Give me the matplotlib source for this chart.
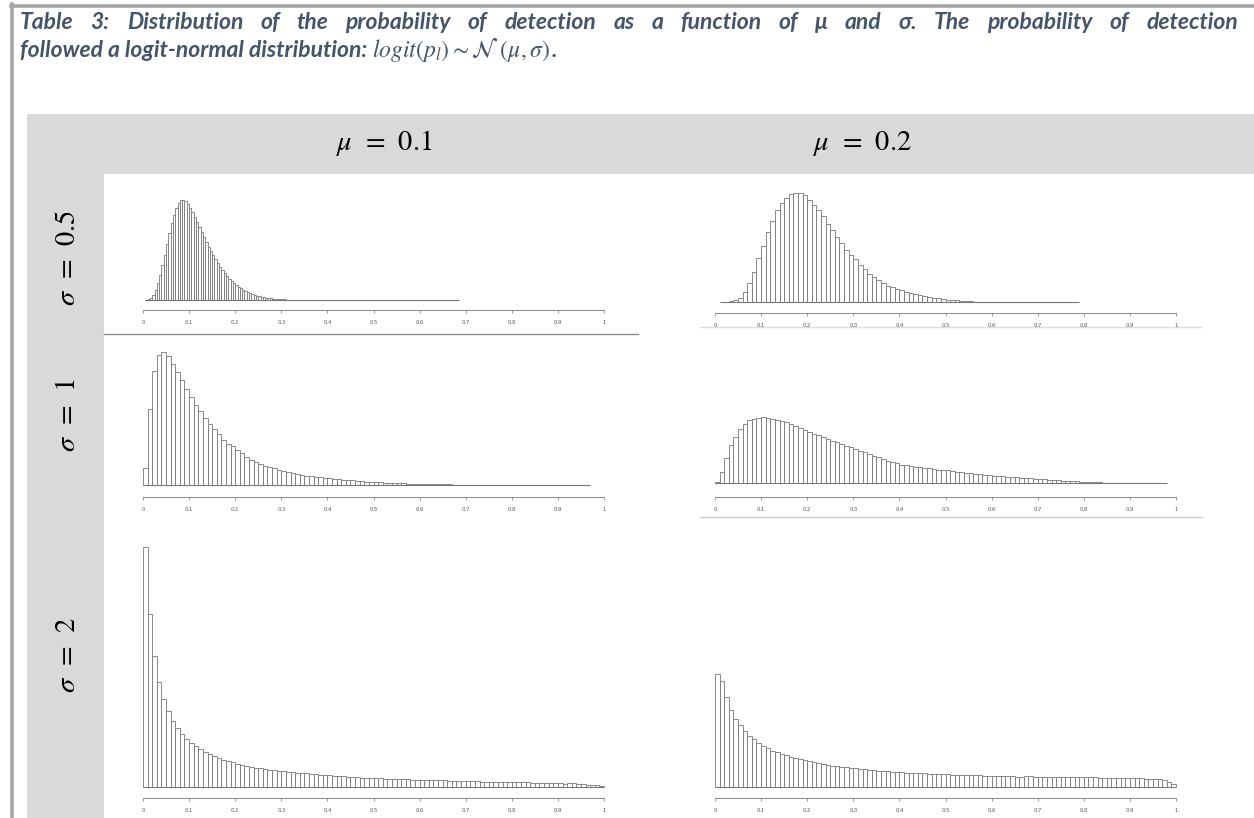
import matplotlib
matplotlib.use('Agg')
import matplotlib.pyplot as plt
from matplotlib.patches import Rectangle
from matplotlib.lines import Line2D

# ---------------- data (bar heights in % of each panel's tallest bar) ----------------
col_labels = [r'$\mu\;\,=\;\,0.1$', r'$\mu\;\,=\;\,0.2$']
row_labels = [r'$\sigma\;\,=\;\,0.5$', r'$\sigma\;\,=\;\,1$', r'$\sigma\;\,=\;\,2$']
tick_values = [0, 0.1, 0.2, 0.3, 0.4, 0.5, 0.6, 0.7, 0.8, 0.9, 1]
tick_labels = ['0', '0.1', '0.2', '0.3', '0.4', '0.5', '0.6', '0.7', '0.8', '0.9', '1']

# mu = 0.1, sigma = 0.5 (bins of 0.005 from 0.005)
h_m1_s05 = [0, 1, 2, 5, 10, 17, 25, 35, 45, 56, 67, 77, 85, 92, 97, 100, 100, 99, 96, 92,
            88, 83, 78, 73, 68, 63, 58, 53, 49, 45, 41, 37, 33, 30, 27, 24, 21.5, 19, 17, 15,
            13.5, 12, 10.5, 9, 8, 7, 6, 5.2, 4.5, 3.8, 3.2, 2.7, 2.3, 2, 1.7, 1.4, 1.2, 1, 0.8,
            0.7, 0.6, 0.5, 0.4, 0.3, 0.25, 0.2, 0.15]
# mu = 0.2, sigma = 0.5 (bins of 0.01 from 0.03)
h_m2_s05 = [0.5, 2, 4, 9, 17.4, 27.5, 40, 51, 64, 74, 84, 91, 95, 99, 100, 100, 98, 94, 89, 84,
            79, 72, 66, 60, 54, 48, 43, 39, 34, 30, 26, 23, 20, 17, 15, 13.5, 12, 10.7, 9.5, 8.5,
            7.5, 6.5, 5.5, 4.8, 4, 3.3, 2.7, 2.2, 1.8, 1.4, 1.1, 0.8, 0.5]
# mu = 0.1, sigma = 1 (bins of 0.01 from 0)
h_m1_s1 = [12.5, 57.5, 86, 97.5, 100, 97, 91, 85, 79, 72.5, 66, 60.5, 55.5, 50.5, 46, 42, 38, 34,
           31, 29, 26, 24, 21, 19, 17.5, 16, 14.5, 13.5, 12.5, 11.5, 10.5, 9.7, 9, 8.3, 7.7, 7.1,
           6.6, 6.1, 5.7, 5.3, 5, 4.6, 4.3, 4, 3.7, 3.4, 3.1, 2.9, 2.6, 2.4, 2.2, 2, 1.8, 1.7, 1.5,
           1.4, 1.2, 1.1, 1, 0.9, 0.8, 0.7, 0.6, 0.55, 0.5, 0.45, 0.4, 0.35, 0.3, 0.25, 0.2, 0.15]
# mu = 0.2, sigma = 1 (bins of 0.01 from 0)
h_m2_s1 = [1.5, 16.5, 37.5, 57.5, 70, 82.5, 90, 95, 97.5, 99, 100, 99, 97.5, 96, 94, 92, 89, 86.5,
           83.5, 81, 78, 75, 72, 69.5, 67, 64, 61.5, 59, 56.5, 54, 51.5, 49, 46.5, 44, 41.5, 39,
           36.5, 34, 32, 30, 28, 27, 26, 25, 24, 23, 22, 21, 20, 19.5, 19, 18, 17, 16.5, 15.5, 15,
           14, 13.5, 12.5, 12, 11, 10.5, 10, 9.5, 9, 8.5, 8, 7.5, 7, 6.5, 6, 5.5, 5, 4.5, 4, 3.6,
           3.2, 2.8, 2.4, 2, 1.7, 1.4, 1.1, 0.9, 0.7, 0.5, 0.3]
# mu = 0.1, sigma = 2 (bins of 0.01 from 0)
h_m1_s2 = [100, 72.2, 54.4, 43.75, 36.7, 31.5, 27.4, 24.6, 22.1, 20.1, 18.3, 16.9, 15.8, 14.6,
           13.75, 12.9, 12.1, 11.4, 10.8, 10.3, 9.7, 9.2, 8.75, 8.3, 8.1, 7.8, 7.5, 7.2, 7.1, 6.8,
           6.7, 6.4, 6.25, 6, 5.8, 5.7, 5.4, 5.3, 5.1, 5, 4.9, 4.7, 4.6, 4.4, 4.3, 4.2, 4, 3.9,
           3.9, 3.75, 3.75, 3.6, 3.5, 3.5, 3.3, 3.3, 3.2, 3.2, 3.1, 3.1, 3.1, 2.9, 2.9, 2.8, 2.8,
           2.8, 2.6, 2.6, 2.5, 2.5, 2.5, 2.4, 2.4, 2.2, 2.2, 2.2, 2.2, 2.1, 2.1, 2.1, 2.1, 1.9,
           1.9, 1.9, 1.8, 1.8, 1.8, 1.8, 1.7, 1.5, 1.5, 1.4, 1.5, 1.5, 1.25, 1.25, 1, 0.8, 0.8, 0.3]
# mu = 0.2, sigma = 2 (bins of 0.01 from 0)
h_m2_s2 = [100, 94, 79.4, 68.4, 60.5, 54.6, 49.3, 45.1, 42.2, 38.9, 36.6, 34.5, 32.2, 30.7, 29.2,
           28, 26.8, 25.7, 24.8, 24.2, 23, 21.8, 20.9, 20.4, 19.8, 18.9, 18.3, 18, 17.7, 17.1,
           16.8, 16.2, 15.9, 15.3, 15, 14.5, 14.2, 13.9, 13.6, 13.3, 13, 12.7, 12.4, 12.4, 12.1,
           12.1, 11.8, 11.8, 11.5, 11.5, 11.2, 10.9, 10.9, 10.6, 10.6, 10.3, 10.3, 10.3, 10, 10,
           9.7, 9.7, 9.4, 9.4, 9.4, 9.1, 9.1, 9.4, 9.4, 9.1, 8.8, 8.6, 8.6, 8.6, 8.6, 8.6, 8.6,
           8.6, 8.6, 8.6, 8.6, 8.6, 8.6, 8.3, 8.3, 8.3, 8, 8, 8, 8, 8, 7.7, 7.7, 7.1, 7.1, 7.1,
           7.1, 5.9, 4.7, 2.7]

bin_start = [0.005, 0.03, 0.0, 0.0, 0.0, 0.0]
bin_width = [0.005, 0.01, 0.01, 0.01, 0.01, 0.01]
range_lo = [0.004, 0.01, 0.0, 0.0, 0.0, 0.0]
range_hi = [0.685, 0.79, 0.97, 0.98, 1.0, 1.0]

# ---------------- figure ----------------
W, H = 1254, 818
fig = plt.figure(figsize=(W / 100, H / 100), dpi=100)
plt.rcParams['mathtext.fontset'] = 'stix'


def fx(x):
    return x / W


def fy(y):
    return 1 - y / H


def rect(x0, y0, x1, y1, color, z):
    fig.patches.append(Rectangle((fx(x0), fy(y1)), (x1 - x0) / W, (y1 - y0) / H,
                                 transform=fig.transFigure, facecolor=color,
                                 edgecolor='none', zorder=z))


def hline(x0, x1, y, color, lw):
    fig.lines.append(Line2D([fx(x0), fx(x1)], [fy(y), fy(y)], transform=fig.transFigure,
                            color=color, lw=lw, zorder=-1))


# table background
rect(27, 114, W, H, '#d9d9d9', -3)
rect(104, 174, W, H, 'white', -2)
# outer frame
hline(11, W, 5.5, '#a6a6a6', 2.6)
fig.lines.append(Line2D([fx(12), fx(12)], [fy(4), fy(H)], transform=fig.transFigure,
                        color='#a6a6a6', lw=2.6, zorder=-1))
# image edges under some panels
hline(104, 638, 334, '#8c8c8c', 1.0)
hline(700, 1201, 327, '#dedede', 1.0)
hline(700, 1202, 517, '#cfcfcf', 1.0)

# headers
for lab, cx in zip(col_labels, [384, 862]):
    fig.text(fx(cx), fy(143), lab, ha='center', va='center', fontsize=20.5, color='black')
for lab, cy in zip(row_labels, [258, 415, 655]):
    fig.text(fx(67), fy(cy), lab, ha='center', va='center', fontsize=20.5, color='black',
             rotation=90)

# panels: (x0, x1, peak_y, base_y, axis_y)
geom = [(143, 604, 200, 300, 310), (715, 1176, 193, 302, 313),
        (143, 604, 352, 485, 497), (715, 1176, 417, 483, 497),
        (143, 604, 547, 787, 798), (715, 1176, 674, 787, 798)]
heights = [h_m1_s05, h_m2_s05, h_m1_s1, h_m2_s1, h_m1_s2, h_m2_s2]

for i, (x0, x1, py, by, ay) in enumerate(geom):
    ax = fig.add_axes([fx(x0), fy(ay), (x1 - x0) / W, (ay - py) / H])
    ax.patch.set_alpha(0)
    ax.set_xlim(0, 1)
    ax.set_ylim(-(ay - by) / (by - py) * 100, 100)
    hs = heights[i]
    lefts = [bin_start[i] + k * bin_width[i] for k in range(len(hs))]
    ax.bar(lefts, hs, width=bin_width[i], align='edge', facecolor='white',
           edgecolor='#777777', linewidth=0.6, clip_on=False)
    ax.hlines(0, range_lo[i], range_hi[i], color='#777777', lw=0.8)
    for s in ['top', 'left', 'right']:
        ax.spines[s].set_visible(False)
    ax.spines['bottom'].set_color('#8a8a8a')
    ax.spines['bottom'].set_linewidth(0.7)
    ax.set_yticks([])
    ax.set_xticks(tick_values)
    ax.set_xticklabels(tick_labels)
    ax.tick_params(axis='x', length=2.5, width=0.6, color='#8a8a8a', labelsize=3.8,
                   labelcolor='#555555', pad=4.5)

# ---------------- caption (justified first line) ----------------
title_color = '#44546a'
fp = dict(family=['Lato', 'DejaVu Sans'], weight='bold', style='italic', size=16.5,
          color=title_color)
line1 = ('Table 3: Distribution of the probability of detection as a function of '
         'μ and σ. The probability of detection')
words = line1.split(' ')
texts = [fig.text(0, fy(29), w, va='baseline', **fp) for w in words]
fig.canvas.draw()
r = fig.canvas.get_renderer()
widths = [t.get_window_extent(r).width for t in texts]
gap = (1238 - 20 - sum(widths)) / (len(words) - 1)
x = 20
for t, wd in zip(texts, widths):
    t.set_x(fx(x))
    x += wd + gap

math_part = r'$logit(p_l){\sim}\mathcal{N}\ (\mu,\sigma)$'
t2 = fig.text(fx(20), fy(57), 'followed a logit-normal distribution: ', va='baseline', **fp)
fig.canvas.draw()
w2 = t2.get_window_extent(r).width
t3 = fig.text(fx(20 + w2), fy(57), math_part, va='baseline', fontsize=17, color=title_color)
fig.canvas.draw()
w3 = t3.get_window_extent(r).width
fig.text(fx(20 + w2 + w3 + 1), fy(57), '.', va='baseline', **fp)

fig.savefig('out.png', dpi=100)
